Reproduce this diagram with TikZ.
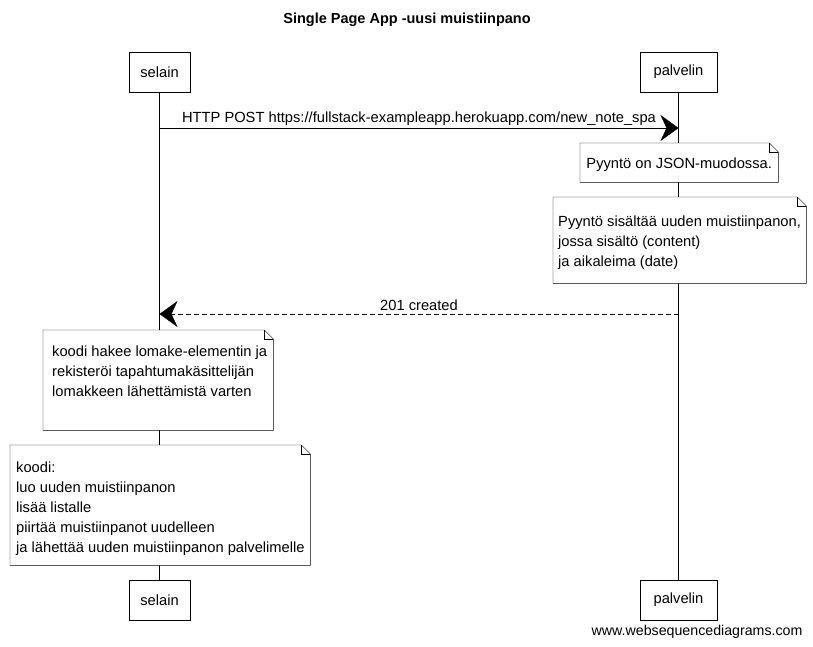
\documentclass[tikz,border=0pt]{standalone}
\usepackage{fontspec}
\setmainfont{Liberation Sans}
\usetikzlibrary{arrows.meta}
\pgfdeclarelayer{back}
\pgfdeclarelayer{mid}
\pgfsetlayers{back,mid,main}
\begin{document}
\begin{tikzpicture}[x=1pt,y=-1pt,
  font=\fontsize{14.7}{20}\selectfont,
  line width=0.9pt,
  actor/.style={draw, fill=white, minimum height=40pt, inner sep=0pt},
  lifeline/.style={line width=0.6pt},
  msg/.style={-{Stealth[length=18pt,width=26pt,inset=6pt]}},
  ret/.style={msg, dash pattern=on 5pt off 3pt},
  notegeom/.style={inner sep=0pt, anchor=north west},
  notetext/.style={inner sep=0pt, anchor=north west, align=left},
  lbl/.style={above, inner sep=2pt}
  ]
\useasboundingbox (0,0) rectangle (813,646);

% title
\node[font=\fontsize{14.5}{16}\selectfont\bfseries] (title) at (407,20) {Single Page App -uusi muistiinpano};

% actors
\node[actor, minimum width=61pt] (tsel) at (159.5,72) {selain};
\node[actor, minimum width=77pt] (tpal) at (678.5,72) {palvelin};
\node[actor, minimum width=61pt] (bsel) at (159.5,600) {selain};
\node[actor, minimum width=77pt] (bpal) at (678.5,600) {palvelin};

\begin{pgfonlayer}{back}
  \draw[lifeline] (tsel.south) -- (bsel.north);
  \draw[lifeline] (tpal.south) -- (bpal.north);
\end{pgfonlayer}

% message endpoints on lifelines
\coordinate (m1a) at (159.5,128);
\coordinate (m1b) at (678.5,128);
\coordinate (m2a) at (678.5,314);
\coordinate (m2b) at (159.5,314);

\draw[msg] (m1a) -- node[lbl] (m1l) {HTTP POST https://fullstack-exampleapp.herokuapp.com/new\_note\_spa} (m1b);
\draw[ret] (m2a) -- node[lbl, inner sep=3pt] (m2l) {201 created} (m2b);

% notes geometry
\node[notegeom, minimum width=198pt, minimum height=39pt] (n1) at (580,143) {};
\node[notegeom, minimum width=253pt, minimum height=86pt] (n2) at (553,197) {};
\node[notegeom, minimum width=230pt, minimum height=100pt] (n3) at (43,330) {};
\node[notegeom, minimum width=300pt, minimum height=120pt] (n4) at (10,445) {};

\begin{pgfonlayer}{mid}
\foreach \n in {n1,n2,n3,n4}{
  \draw[fill=white] (\n.north west) -- ([xshift=-9pt]\n.north east) -- ([yshift=-9pt]\n.north east)
     -- (\n.south east) -- (\n.south west) -- cycle;
  \draw[line width=0.6pt] ([xshift=-9pt]\n.north east) |- ([yshift=-9pt]\n.north east);
}
\end{pgfonlayer}

% note texts
\node (n1t) at ([yshift=-1.5pt]n1.center) {Pyyntö on JSON-muodossa.};
\node[notetext] (n2t) at ([shift={(5,19)}]n2.north west) {Pyyntö sisältää uuden muistiinpanon,\\jossa sisältö (content)\\ja aikaleima (date)};
\node[notetext] (n3t) at ([shift={(9,16)}]n3.north west) {koodi hakee lomake-elementin ja\\rekisteröi tapahtumakäsittelijän\\lomakkeen lähettämistä varten};
\node[notetext] (n4t) at ([shift={(6,17)}]n4.north west) {koodi:\\luo uuden muistiinpanon\\lisää listalle\\piirtää muistiinpanot uudelleen\\ja lähettää uuden muistiinpanon palvelimelle};

% footer
\node[anchor=east, font=\fontsize{14.2}{16}\selectfont] (foot) at (806,632) {www.websequencediagrams.com};
\end{tikzpicture}
\end{document}
